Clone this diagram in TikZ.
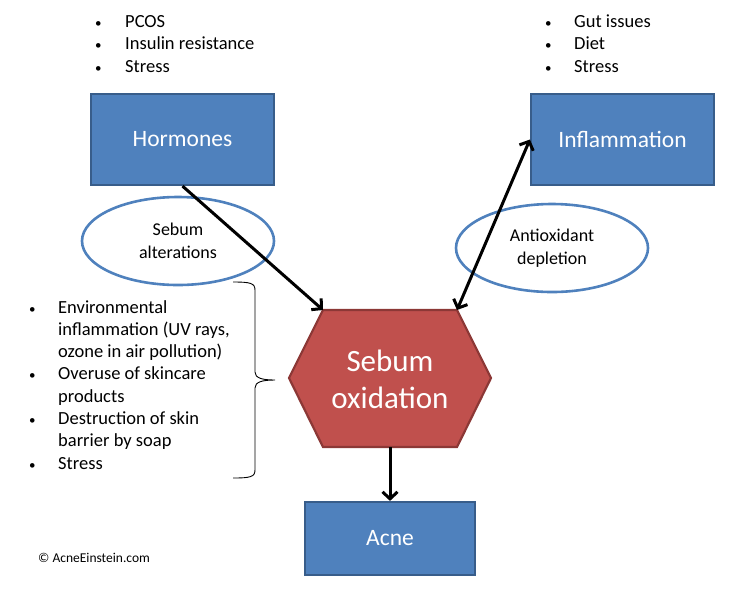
\documentclass[tikz,border=0pt]{standalone}
\usepackage{fontspec}
\setmainfont{Carlito}
\usetikzlibrary{arrows.meta,calc,shapes.geometric}

\definecolor{boxblue}{HTML}{4F81BD}
\definecolor{boxedge}{HTML}{385D8A}
\definecolor{hexred}{HTML}{C0504D}
\definecolor{hexedge}{HTML}{8C3836}

\newcommand{\blt}{{\fontsize{13}{13}\selectfont\textbullet}}

\tikzset{
  cause/.style={rectangle, fill=boxblue, draw=boxedge, line width=2.2pt, minimum width=183pt, minimum height=91pt, text=white, font=\fontsize{23.5}{27}\selectfont},
  link/.style={ellipse, draw=boxblue, line width=2.6pt, minimum width=192pt, minimum height=88pt, align=center, font=\fontsize{18}{23}\selectfont},
  arr/.style={line width=3pt, -{Straight Barb[length=7pt,width=15pt]}},
  dblarr/.style={line width=3pt, {Straight Barb[length=7pt,width=15pt]}-{Straight Barb[length=7pt,width=15pt]}},
  bullets/.style={anchor=base west, inner sep=0pt, font=\fontsize{18.5}{22.7}\selectfont},
}

\begin{document}
\begin{tikzpicture}[x=1pt,y=-1pt]
  \useasboundingbox (0,0) rectangle (741,590);

  % boxes
  \node[cause] (horm) at (182.5,139.5) {Hormones};
  \node[cause] (infl) at (622.5,139.5) {Inflammation};
  \node[cause, minimum width=170pt, minimum height=73pt] (acne) at (390,538.5) {Acne};

  % hexagon
  \coordinate (oxL) at (289,378);
  \coordinate (oxTL) at (323,310);
  \coordinate (oxTR) at (457,310);
  \coordinate (oxR) at (491,378);
  \coordinate (oxBR) at (457,447);
  \coordinate (oxBL) at (323,447);
  \filldraw[fill=hexred, draw=hexedge, line width=2.2pt] (oxL) -- (oxTL) -- (oxTR) -- (oxR) -- (oxBR) -- (oxBL) -- cycle;
  \node[text=white, align=center, font=\fontsize{31}{37}\selectfont] (ox) at (390,379) {Sebum\\oxidation};

  % ellipses
  \node[link] (alter) at (178,241) {Sebum\\alterations};
  \node[link] (deplete) at (552,248) {Antioxidant\\depletion};

  % arrows
  \draw[arr] (horm.south) -- (oxTL);
  \draw[dblarr] (oxTR) -- (infl.west);
  \draw[arr] ($(oxBL)!0.5!(oxBR)$) -- (acne.north);

  % lists
  \node[bullets] (hormlist) at (95,27) {\begin{tabular}[t]{@{}p{30pt}@{}l@{}}
    \blt & PCOS\\
    \blt & Insulin resistance\\
    \blt & Stress
  \end{tabular}};
  \node[bullets] (infllist) at (545,27) {\begin{tabular}[t]{@{}p{29pt}@{}l@{}}
    \blt & Gut issues\\
    \blt & Diet\\
    \blt & Stress
  \end{tabular}};
  \node[bullets, font=\fontsize{18.5}{22.3}\selectfont] (skinlist) at (29,313) {\begin{tabular}[t]{@{}p{29pt}@{}l@{}}
    \blt & Environmental\\
     & inflammation (UV rays,\\
     & ozone in air pollution)\\
    \blt & Overuse of skincare\\
     & products\\
    \blt & Destruction of skin\\
     & barrier by soap\\
    \blt & Stress
  \end{tabular}};

  % brace
  \draw[line width=0.9pt] (233,282) .. controls (250,282) and (255,283) .. (255,290) -- (255,372)
    .. controls (255,378) and (262,380) .. (275,380)
    .. controls (262,380) and (255,382) .. (255,388) -- (255,470)
    .. controls (255,477) and (250,478) .. (233,478);

  \node[anchor=base west, inner sep=0pt, font=\fontsize{13.5}{15}\selectfont] (copy) at (38,562) {© AcneEinstein.com};
\end{tikzpicture}
\end{document}
